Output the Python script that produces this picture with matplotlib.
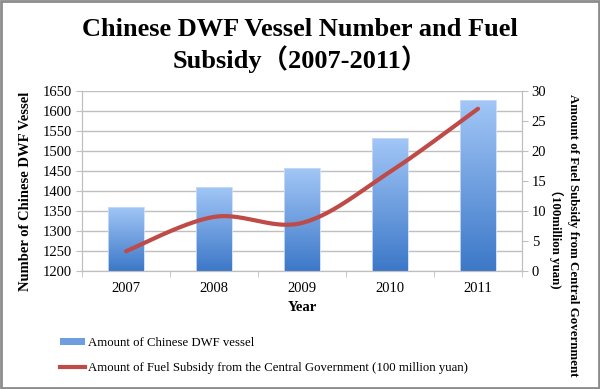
import numpy as np
import matplotlib
matplotlib.use("Agg")
import matplotlib.pyplot as plt
from matplotlib.patches import Rectangle
from matplotlib.lines import Line2D
from matplotlib.colors import LinearSegmentedColormap

# Data
years = ["2007", "2008", "2009", "2010", "2011"]
vessels = [1360, 1410, 1456, 1533, 1628]
subsidy = [3.3, 9.0, 8.0, 16.5, 27.0]

serif = ["Liberation Serif", "Noto Sans CJK SC", "DejaVu Serif"]
plt.rcParams["font.family"] = serif

fig = plt.figure(figsize=(6.0, 3.89), dpi=100)
ax = fig.add_axes([0.1367, 0.3033, 0.7333, 0.4635])
ax2 = ax.twinx()

x = np.arange(len(years))
grid_c = "#BFBFBF"

# bars with vertical gradient
bars = ax.bar(x, vessels, width=0.4, bottom=0, color="none", edgecolor="#C9DDF7",
              linewidth=0.6, zorder=3)
cmap = LinearSegmentedColormap.from_list("blu", ["#3C78C8", "#A3C7F7"])
grad = np.linspace(0, 1, 256).reshape(-1, 1)
for b in bars:
    x0, w, h = b.get_x(), b.get_width(), b.get_height()
    im = ax.imshow(grad, extent=(x0, x0 + w, 1200, h), origin="lower", cmap=cmap,
                   aspect="auto", zorder=2)
    im.set_clip_path(b)

ax.set_xlim(-0.5, 4.5)
ax.set_ylim(1200, 1650)
ax.set_yticks(range(1200, 1651, 50))
ax.yaxis.grid(True, color=grid_c, linewidth=1.0)
ax.set_axisbelow(True)
ax.set_xticks(x)
ax.set_xticklabels(years)
ax.set_xticks(np.arange(-0.5, 4.6, 1), minor=True)
ax.tick_params(axis="x", which="major", length=0, pad=8, labelsize=10.5)
ax.tick_params(axis="x", which="minor", length=4, color=grid_c)
ax.tick_params(axis="y", length=4, color=grid_c, labelsize=10.5, pad=3)

for a in (ax, ax2):
    a.spines["top"].set_visible(False)
    for s in ("left", "right", "bottom"):
        a.spines[s].set_color(grid_c)

# smoothed line (Catmull-Rom through the yearly values)
pts = np.column_stack([x, subsidy]).astype(float)
ext = np.vstack([pts[0], pts, pts[-1]])
cx, cy = [], []
for i in range(1, len(ext) - 2):
    p0, p1, p2, p3 = ext[i - 1], ext[i], ext[i + 1], ext[i + 2]
    t = np.linspace(0, 1, 40)[:, None]
    seg = 0.5 * ((2 * p1) + (-p0 + p2) * t + (2 * p0 - 5 * p1 + 4 * p2 - p3) * t ** 2
                 + (-p0 + 3 * p1 - 3 * p2 + p3) * t ** 3)
    cx.extend(seg[:, 0]); cy.extend(seg[:, 1])
ax2.plot(cx, cy, color="#BE4B48", linewidth=3.0, solid_capstyle="round", zorder=5)
ax2.set_ylim(0, 30)
ax2.set_yticks(range(0, 31, 5))
ax2.tick_params(axis="y", length=4, color=grid_c, labelsize=10.5, pad=3)

ax.set_xlabel("Year", fontsize=10.5, fontweight="bold", labelpad=4)
ax.set_ylabel("Number of Chinese DWF Vessel", fontsize=10.5, fontweight="bold")
ax.yaxis.set_label_coords(-0.113, 0.443)
fig.text(0.94, 0.758, "Amount of Fuel Subsidy from Central Government\n\uff08100million yuan)",
         rotation=270, ha="center", va="top", fontsize=9.3, fontweight="bold",
         multialignment="center", linespacing=1.3)

fig.suptitle("Chinese DWF Vessel Number and Fuel\nSubsidy\uff082007-2011\uff09",
             y=0.955, fontsize=19, fontweight="bold", linespacing=1.2)

handles = [Rectangle((0, 0), 1, 1, facecolor="#6F9EE0", edgecolor="none"),
           Line2D([0], [0], color="#BE4B48", linewidth=3.0)]
fig.legend(handles, ["Amount of Chinese DWF vessel",
                     "Amount of Fuel Subsidy from the Central Government (100 million yuan)"],
           loc="lower left", bbox_to_anchor=(0.08, 0.008), frameon=False, fontsize=9.2,
           handlelength=2.0, handleheight=0.5, handletextpad=0.2, labelspacing=1.05)

fig.patches.append(Rectangle((0.002, 0.003), 0.996, 0.994, transform=fig.transFigure,
                             fill=False, edgecolor="#8C8C8C", linewidth=2))

fig.savefig("out.png", dpi=100)
